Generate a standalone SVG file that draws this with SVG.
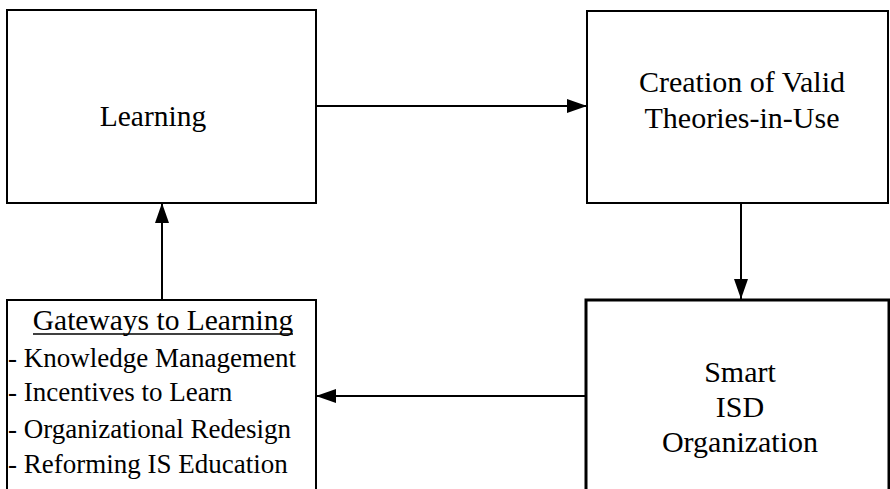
<svg xmlns="http://www.w3.org/2000/svg" width="890" height="489" viewBox="0 0 890 489">
<style>
.box{fill:#fff;stroke:#000;stroke-width:2}
.thick{stroke-width:3}
.t{font-family:"Liberation Serif","Times New Roman",serif;font-size:30px;fill:#000;text-anchor:middle}
.s{font-size:29.5px}
.l{font-family:"Liberation Serif","Times New Roman",serif;font-size:27px;fill:#000}
.c{stroke:#000;stroke-width:2;fill:none}
</style>
<defs>
<marker id="ah" viewBox="0 0 20 14" refX="20" refY="7" markerWidth="20" markerHeight="14" markerUnits="userSpaceOnUse" orient="auto">
<path d="M0,0 L20,7 L0,14 Z" fill="#000"/>
</marker>
</defs>
<rect width="890" height="489" fill="#fff"/>
<g id="learning">
<rect class="box" x="7" y="10" width="309" height="193"/>
<text class="t s" x="153" y="126">Learning</text>
</g>
<g id="creation">
<rect class="box" x="587" y="11" width="301" height="192"/>
<text class="t" x="742" y="92">Creation of Valid</text>
<text class="t" x="742" y="128">Theories-in-Use</text>
</g>
<g id="smart">
<rect class="box thick" x="586" y="300" width="303" height="200"/>
<text class="t" x="740" y="382">Smart</text>
<text class="t" x="740" y="417">ISD</text>
<text class="t" x="740" y="452">Organization</text>
</g>
<g id="gateways">
<rect class="box" x="7" y="300" width="309" height="200"/>
<text class="t s" x="163" y="330">Gateways to Learning</text>
<line x1="33" y1="334" x2="293" y2="334" stroke="#000" stroke-width="1.5"/>
<text class="l" x="8" y="367">- Knowledge Management</text>
<text class="l" x="8" y="401">- Incentives to Learn</text>
<text class="l" x="8" y="438">- Organizational Redesign</text>
<text class="l" x="8" y="473">- Reforming IS Education</text>
</g>
<g id="connectors">
<line class="c" x1="316" y1="106" x2="587" y2="106" marker-end="url(#ah)"/>
<line class="c" x1="741" y1="203" x2="741" y2="299" marker-end="url(#ah)"/>
<line class="c" x1="586" y1="396" x2="316" y2="396" marker-end="url(#ah)"/>
<line class="c" x1="162" y1="300" x2="162" y2="203" marker-end="url(#ah)"/>
</g>
</svg>
